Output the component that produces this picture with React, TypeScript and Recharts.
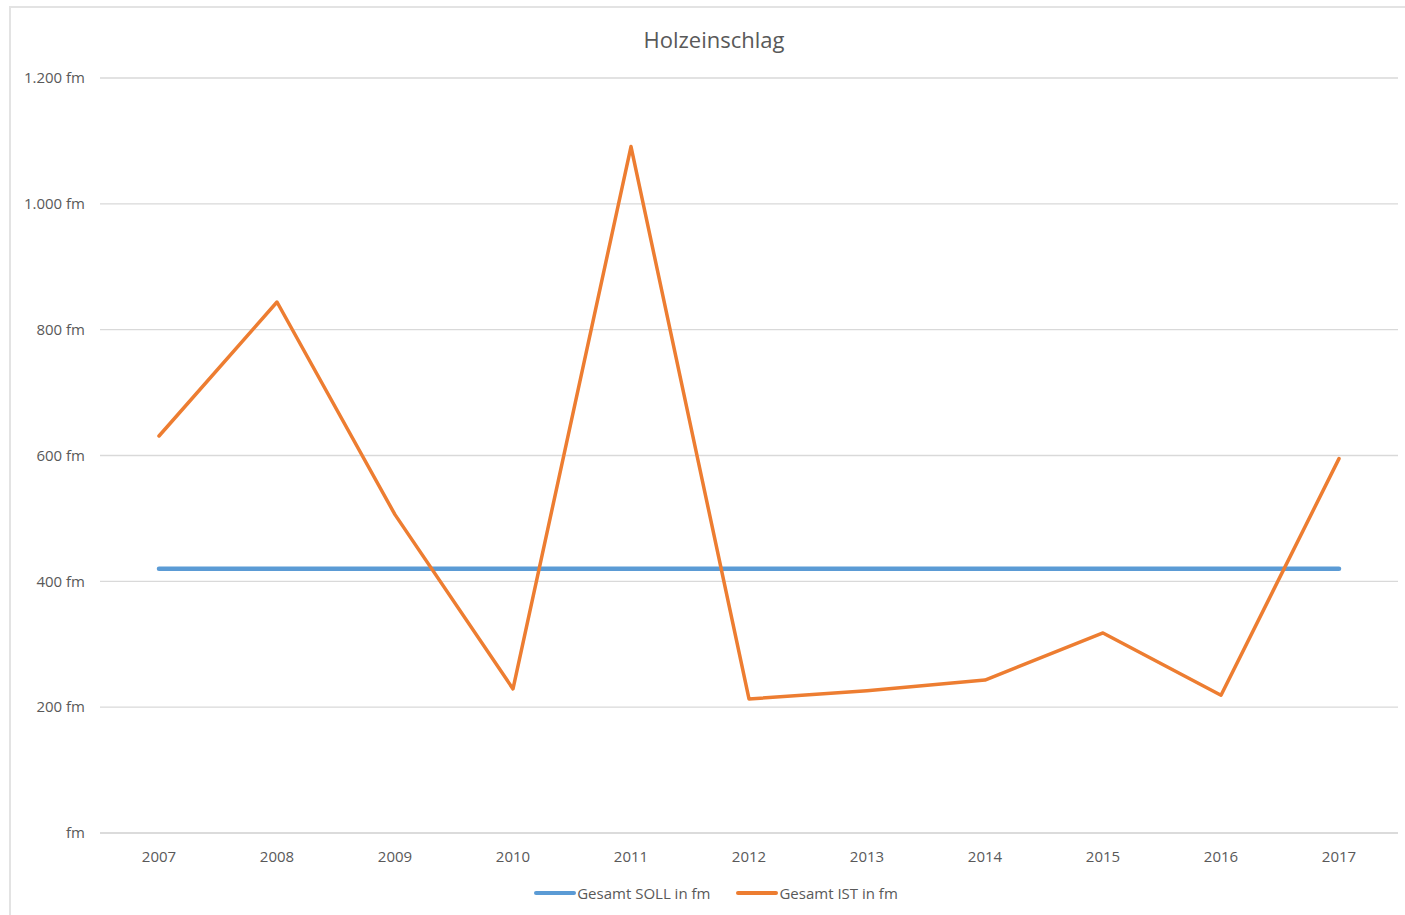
import { LineChart, Line, XAxis, YAxis, CartesianGrid, Legend } from 'recharts';

const years = ['2007', '2008', '2009', '2010', '2011', '2012', '2013', '2014', '2015', '2016', '2017'];
const sollValues = [420, 420, 420, 420, 420, 420, 420, 420, 420, 420, 420];
const istValues = [631, 844, 506, 229, 1091, 213, 226, 243, 318, 219, 595];
const yTicks = [0, 200, 400, 600, 800, 1000, 1200];

const BLUE = '#5B9BD5';
const ORANGE = '#ED7D31';
const TEXT = '#595959';
const GRID = '#d9d9d9';
const FONT = '"Open Sans", sans-serif';

const chartData = years.map((year, i) => ({
  year,
  soll: sollValues[i],
  ist: istValues[i],
}));

const formatFm = (v: number) => (v === 0 ? 'fm' : v.toLocaleString('de-DE') + ' fm');

const legendItems = [
  { label: 'Gesamt SOLL in fm', color: BLUE },
  { label: 'Gesamt IST in fm', color: ORANGE },
];

function LegendContent() {
  return (
    <div
      style={{
        display: 'flex',
        justifyContent: 'center',
        alignItems: 'center',
        height: 24,
        paddingLeft: 34,
        fontFamily: FONT,
        fontSize: 15,
        color: TEXT,
      }}
    >
      {legendItems.map((item, i) => (
        <div key={item.label} style={{ display: 'flex', alignItems: 'center', marginLeft: i ? 26 : 0 }}>
          <svg width={42} height={8}>
            <line x1={2} y1={4} x2={40} y2={4} stroke={item.color} strokeWidth={4} strokeLinecap="round" />
          </svg>
          <span style={{ marginLeft: 1 }}>{item.label}</span>
        </div>
      ))}
    </div>
  );
}

export default function App() {
  return (
    <div style={{ position: 'absolute', left: 0, top: 0, width: 1405, height: 915, overflow: 'hidden', background: '#fff' }}>
      <div
        style={{
          position: 'absolute',
          left: 9,
          top: 6,
          width: 1420,
          height: 930,
          border: '2px solid #e3e3e3',
        }}
      />
      <div
        style={{
          position: 'absolute',
          left: 0,
          top: 24,
          width: 1428,
          textAlign: 'center',
          fontFamily: FONT,
          fontSize: 22,
          color: TEXT,
        }}
      >
        Holzeinschlag
      </div>
      <div style={{ position: 'absolute', left: 0, top: 0 }}>
        <LineChart width={1405} height={915} data={chartData} margin={{ top: 78, right: 7, bottom: 10, left: 0 }}>
          <CartesianGrid vertical={false} stroke={GRID} strokeWidth={1.3} />
          <XAxis
            dataKey="year"
            height={48}
            padding={{ left: 59, right: 59 }}
            tick={{ fontSize: 15, fill: TEXT, fontFamily: FONT }}
            axisLine={{ stroke: GRID, strokeWidth: 1.3 }}
            tickLine={false}
            tickSize={0}
            tickMargin={18}
          />
          <YAxis
            width={100}
            domain={[0, 1200]}
            ticks={yTicks}
            interval={0}
            tick={{ fontSize: 15, fill: TEXT, fontFamily: FONT }}
            axisLine={false}
            tickLine={false}
            tickSize={0}
            tickMargin={15}
            tickFormatter={formatFm}
          />
          <Legend verticalAlign="bottom" content={() => <LegendContent />} />
          <Line
            dataKey="soll"
            name="Gesamt SOLL in fm"
            stroke={BLUE}
            strokeWidth={4.5}
            strokeLinecap="round"
            dot={false}
            activeDot={false}
            isAnimationActive={false}
          />
          <Line
            dataKey="ist"
            name="Gesamt IST in fm"
            stroke={ORANGE}
            strokeWidth={3.5}
            strokeLinecap="round"
            strokeLinejoin="round"
            dot={false}
            activeDot={false}
            isAnimationActive={false}
          />
        </LineChart>
      </div>
    </div>
  );
}
